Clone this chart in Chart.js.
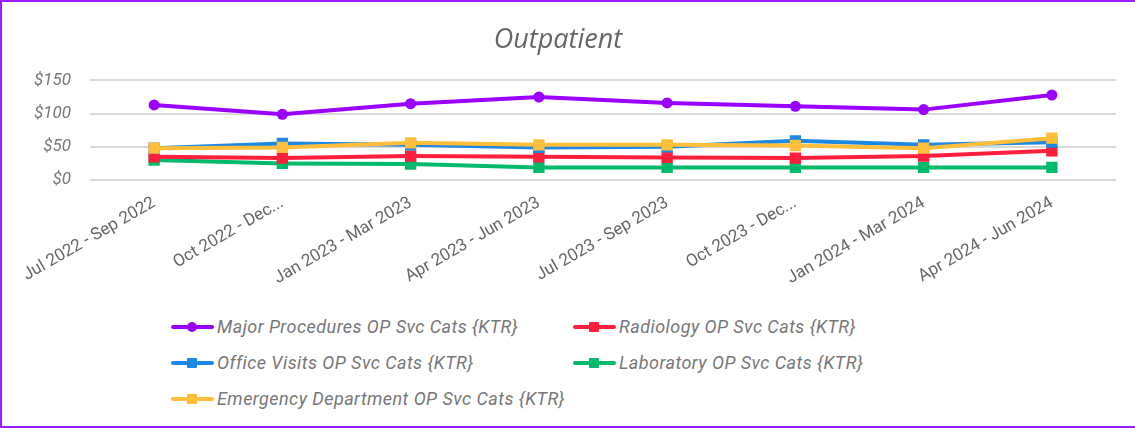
<!DOCTYPE html>
<html>
<head>
<meta charset="utf-8">
<script src="https://cdn.jsdelivr.net/npm/chart.js@4"></script>
<style>
    body { margin: 0; background: #fff; }
    #wrap { position: relative; width: 1135px; height: 428px; overflow: hidden; }
    #frame {
        position: absolute; left: 0; top: 0; width: 1135px; height: 428px;
        box-sizing: border-box;
        border-left: 2px solid #9b1cff; border-top: 2px solid #9b1cff; border-bottom: 2px solid #9b1cff;
        pointer-events: none; z-index: 5;
    }
    #chartBox { position: absolute; left: 0; top: 0; width: 1135px; height: 300px; }
    #legend { position: absolute; left: 171px; top: 316px; font-family: Roboto, sans-serif; }
    .legend-item {
        position: absolute; display: flex; align-items: center; white-space: nowrap;
        font-size: 18px; font-style: italic; color: #777; letter-spacing: 0.45px;
    }
    .legend-mark { position: relative; width: 43px; height: 12px; margin-right: 3px; }
    .legend-line { position: absolute; left: 0; right: 0; top: 4px; height: 4px; border-radius: 2px; }
    .legend-dot { position: absolute; left: 16px; top: 1px; width: 10px; height: 10px; }
</style>
</head>
<body>
<div id="wrap">
    <div id="chartBox"><canvas id="outpatientChart"></canvas></div>
    <div id="legend"></div>
    <div id="frame"></div>
</div>
<script>
// Quarter labels (as shown, truncated ones included)
const quarters = [
    'Jul 2022 - Sep 2022', 'Oct 2022 - Dec...', 'Jan 2023 - Mar 2023', 'Apr 2023 - Jun 2023',
    'Jul 2023 - Sep 2023', 'Oct 2023 - Dec...', 'Jan 2024 - Mar 2024', 'Apr 2024 - Jun 2024'
];

// Series values ($)
const majorProcedures = [113, 99, 115, 125, 116, 111, 106, 128];
const radiology       = [35, 33, 36, 35, 34, 33, 36, 44];
const officeVisits    = [48, 55, 53, 49, 50, 59, 53, 57];
const laboratory      = [30, 25, 24, 19, 19, 19, 19, 19];
const emergencyDept   = [48, 49, 56, 53, 53, 52, 48, 63];

const yTicks = [0, 50, 100, 150];

const series = [
    { label: 'Major Procedures OP Svc Cats {KTR}', data: majorProcedures, color: '#9900ff', style: 'circle', order: 0 },
    { label: 'Radiology OP Svc Cats {KTR}', data: radiology, color: '#ff1f3d', style: 'rect', order: 3 },
    { label: 'Office Visits OP Svc Cats {KTR}', data: officeVisits, color: '#1e88e5', style: 'rect', order: 2 },
    { label: 'Laboratory OP Svc Cats {KTR}', data: laboratory, color: '#00ba6c', style: 'rect', order: 4 },
    { label: 'Emergency Department OP Svc Cats {KTR}', data: emergencyDept, color: '#ffbf3a', style: 'rect', order: 1 }
];

Chart.defaults.font.family = 'Roboto, sans-serif';

const chart = new Chart(document.getElementById('outpatientChart'), {
    type: 'line',
    data: {
        labels: quarters,
        datasets: series.map(s => ({
            label: s.label,
            data: s.data,
            borderColor: s.color,
            backgroundColor: s.color,
            borderWidth: 4,
            pointStyle: s.style,
            pointRadius: s.style === 'circle' ? 5.5 : 8,
            pointBorderWidth: 0,
            tension: 0,
            order: s.order
        }))
    },
    options: {
        responsive: true,
        maintainAspectRatio: false,
        animation: false,
        layout: { padding: { left: 0, right: 19, top: 0, bottom: 0 } },
        plugins: {
            legend: { display: false },
            tooltip: { enabled: false },
            title: {
                display: true,
                text: 'Outpatient',
                color: '#666',
                font: { family: '"Open Sans", sans-serif', size: 27, style: 'italic', weight: 'normal' },
                padding: { top: 24, bottom: 24 }
            }
        },
        scales: {
            x: {
                offset: true,
                grid: { display: false },
                border: { display: false },
                ticks: {
                    color: '#666',
                    font: { size: 17 },
                    minRotation: 30,
                    maxRotation: 30,
                    autoSkip: false,
                    padding: 5
                },
                afterFit(scale) { scale.height = 120; }
            },
            y: {
                min: 0,
                max: 150,
                afterBuildTicks(scale) { scale.ticks = yTicks.map(v => ({ value: v })); },
                grid: { color: '#d9d9d9', lineWidth: 2, drawTicks: false },
                border: { display: false },
                ticks: {
                    color: '#777',
                    font: { size: 17, style: 'italic' },
                    padding: 19,
                    callback: v => '$' + v
                },
                afterFit(scale) { scale.width = 90; }
            }
        }
    }
});

// HTML legend in two columns, row by row
function renderLegend() {
    const box = document.getElementById('legend');
    const colX = [0, 402];
    const rowY = [0, 36, 72];
    box.innerHTML = series.map((s, i) => `
        <div class="legend-item" style="left:${colX[i % 2]}px; top:${rowY[Math.floor(i / 2)]}px">
            <span class="legend-mark">
                <span class="legend-line" style="background:${s.color}"></span>
                <span class="legend-dot" style="background:${s.color}; border-radius:${s.style === 'circle' ? '50%' : '1px'}"></span>
            </span>
            <span>${s.label}</span>
        </div>
    `).join('');
}
renderLegend();
</script>
</body>
</html>
